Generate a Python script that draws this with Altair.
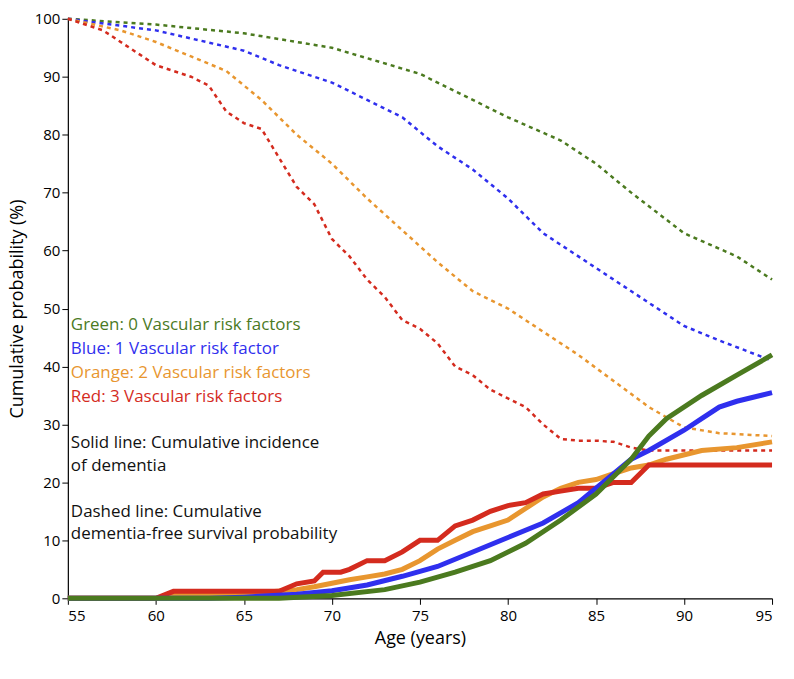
import pandas as pd
import altair as alt

# Dashed: dementia-free survival probability
green_d_age = [55, 60, 65, 70, 75, 80, 83, 85, 87, 90, 93, 95]
green_d_val = [100, 99, 97.5, 95, 90.5, 83, 79, 75, 70, 63, 59, 55]
blue_d_age = [55, 60, 65, 67, 70, 72, 74, 76, 78, 80, 82, 84, 86, 88, 90, 92, 95]
blue_d_val = [100, 98, 94.5, 92, 89, 86, 83, 78, 74, 69, 63, 59, 55, 51, 47, 44.5, 41]
orange_d_age = [55, 58, 60, 62, 64, 66, 68, 70, 72, 74, 76, 78, 80, 82, 84, 86, 88, 90, 92, 95]
orange_d_val = [100, 98, 96, 93.5, 91, 86, 80, 75, 69, 63.5, 58, 53, 50, 46, 42, 37.5, 33, 29.5, 28.5, 28]
red_d_age = [55, 57, 58, 59, 60, 62, 63, 64, 65, 66, 67, 68, 69, 70, 71, 72, 73, 74, 75, 76,
             77, 78, 79, 80, 81, 82, 83, 84, 85, 86, 87, 88, 95]
red_d_val = [100, 98, 96, 94, 92, 90, 88.5, 84, 82, 81, 76, 71, 68, 62, 59, 55, 52, 48, 46.5, 44,
             40, 38.5, 36, 34.5, 33, 30, 27.5, 27.2, 27.2, 27, 26, 25.5, 25.5]

# Solid: cumulative incidence of dementia
green_s_age = [55, 67, 70, 73, 75, 77, 79, 81, 83, 85, 87, 88, 89, 91, 93, 95]
green_s_val = [0, 0, 0.5, 1.5, 2.8, 4.5, 6.5, 9.5, 13.5, 18, 24, 28, 31, 35, 38.5, 42]
blue_s_age = [55, 63, 65, 68, 70, 72, 74, 76, 78, 80, 82, 84, 85, 86, 87, 88, 90, 91, 92, 93, 95]
blue_s_val = [0, 0, 0.2, 0.7, 1.3, 2.3, 3.8, 5.5, 8, 10.5, 13, 16.5, 19, 21.5, 24, 25.5, 29, 31, 33, 34, 35.5]
orange_s_age = [55, 60, 61, 66, 68, 69, 70, 71, 72, 73, 74, 75, 76, 77, 78, 79, 80, 81, 82, 83,
                84, 85, 86, 87, 88, 89, 91, 93, 95]
orange_s_val = [0, 0, 0.5, 1, 1.5, 2, 2.6, 3.2, 3.7, 4.2, 5, 6.5, 8.5, 10, 11.5, 12.5, 13.5, 15.5, 17.5, 19,
                20, 20.5, 21.5, 22.5, 23, 24, 25.5, 26, 27]
red_s_age = [55, 60, 61, 67, 68, 69, 69.5, 70.5, 71, 72, 73, 74, 75, 76, 77, 78, 79, 80, 81, 82,
             83, 84, 85, 86, 87, 88, 95]
red_s_val = [0, 0, 1.2, 1.2, 2.5, 3, 4.5, 4.5, 5, 6.5, 6.5, 8, 10, 10, 12.5, 13.5, 15, 16, 16.5, 18,
             18.5, 19, 19, 20, 20, 23, 23]

colors = {"green": "#4b7a1f", "blue": "#2f2fee", "orange": "#e8962f", "red": "#d42b1e"}

rows = []
def add(ages, vals, grp, style):
    for a, v in zip(ages, vals):
        rows.append({"age": a, "p": v, "grp": grp, "style": style, "key": grp + style})

add(green_d_age, green_d_val, "green", "d")
add(blue_d_age, blue_d_val, "blue", "d")
add(orange_d_age, orange_d_val, "orange", "d")
add(red_d_age, red_d_val, "red", "d")
add(orange_s_age, orange_s_val, "orange", "s")
add(red_s_age, red_s_val, "red", "s")
add(blue_s_age, blue_s_val, "blue", "s")
add(green_s_age, green_s_val, "green", "s")
df = pd.DataFrame(rows)

cscale = alt.Scale(domain=list(colors.keys()), range=list(colors.values()))
x = alt.X("age:Q", title="Age (years)", scale=alt.Scale(domain=[55, 95], nice=False),
          axis=alt.Axis(values=list(range(55, 96, 5))))
y = alt.Y("p:Q", title="Cumulative probability (%)", scale=alt.Scale(domain=[0, 100]),
          axis=alt.Axis(values=list(range(0, 101, 10))))

dashed = alt.Chart(df[df["style"] == "d"]).mark_line(strokeWidth=2.5, strokeDash=[4, 4]).encode(
    x=x, y=y, color=alt.Color("grp:N", scale=cscale, legend=None), detail="key:N")

solid_layers = []
for g in ["orange", "red", "blue", "green"]:
    solid_layers.append(alt.Chart(df[(df["style"] == "s") & (df["grp"] == g)]).mark_line(
        strokeWidth=5, color=colors[g]).encode(x=x, y=y))

notes = [
    ("Green: 0 Vascular risk factors", colors["green"], 307),
    ("Blue: 1 Vascular risk factor", colors["blue"], 331),
    ("Orange: 2 Vascular risk factors", colors["orange"], 355),
    ("Red: 3 Vascular risk factors", colors["red"], 379),
    ("Solid line: Cumulative incidence", "#111111", 425),
    ("of dementia", "#111111", 448),
    ("Dashed line: Cumulative", "#111111", 494),
    ("dementia-free survival probability", "#111111", 517),
]
text_layers = [
    alt.Chart(pd.DataFrame({"t": [t]})).mark_text(
        align="left", baseline="middle", fontSize=17, font="Open Sans", color=c
    ).encode(text="t:N", x=alt.value(3), y=alt.value(yy))
    for t, c, yy in notes
]

chart = alt.layer(dashed, *solid_layers, *text_layers).properties(
    width=706, height=581, padding={"left": 0, "top": 3, "right": 4, "bottom": 0}
).configure_axis(
    grid=False, domainColor="black", tickColor="black", labelColor="black", titleColor="black",
    labelFont="Open Sans", titleFont="Open Sans", labelFontSize=15, titleFontSize=18,
    titleFontWeight="normal", tickSize=6, domainWidth=1.2
).configure_axisX(labelPadding=4, titlePadding=6).configure_axisY(titlePadding=8).configure_view(stroke=None)

chart.save("out.html", embed_options={"renderer": "svg", "actions": False})
